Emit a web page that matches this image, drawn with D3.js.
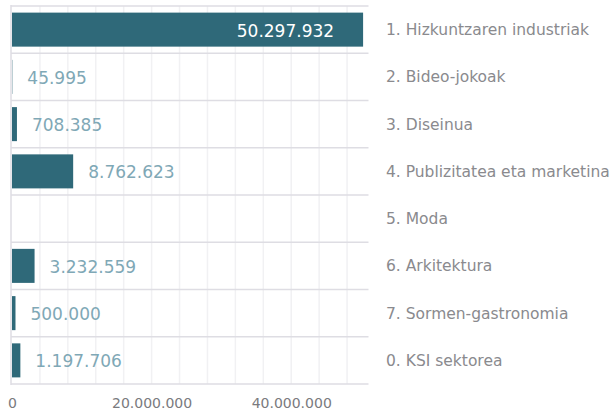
<!DOCTYPE html>
<html>
<head>
<meta charset="utf-8">
<script src="https://cdn.jsdelivr.net/npm/d3@7"></script>
<style>
  body { margin: 0; background: #fff; }
  svg { display: block; font-family: "DejaVu Sans", sans-serif; }
</style>
</head>
<body>
<div id="chart"></div>
<script>
// data
var categories = [
  '1. Hizkuntzaren industriak',
  '2. Bideo-jokoak',
  '3. Diseinua',
  '4. Publizitatea eta marketina',
  '5. Moda',
  '6. Arkitektura',
  '7. Sormen-gastronomia',
  '0. KSI sektorea'
];
var values = [50297932, 45995, 708385, 8762623, null, 3232559, 500000, 1197706];
var tick_values = [0, 20000000, 40000000];
var grid_values = [4e6, 8e6, 12e6, 16e6, 20e6, 24e6, 28e6, 32e6, 36e6, 40e6, 44e6, 48e6];

var chart_width = 612;
var chart_height = 412;

var locale = d3.formatLocale({ decimal: ',', thousands: '.', grouping: [3], currency: ['', ''] });
var fmt = locale.format(',d');

var svg = d3.select('#chart')
  .append('svg')
  .attr('width', chart_width)
  .attr('height', chart_height);

// scales
var x_scale = d3.scaleLinear()
  .domain([0, 51000000])
  .range([12, 368]);

var y_scale = d3.scaleBand()
  .domain(categories)
  .range([6, 384])
  .paddingInner(0.28)
  .paddingOuter(0.14);

var step = y_scale.step();
var row_top = function(d) { return y_scale(d) - step * 0.14; };
var row_mid = function(d) { return y_scale(d) + y_scale.bandwidth() / 2; };

// vertical grid
svg.append('g')
  .attr('class', 'grid')
  .selectAll('line')
  .data(grid_values)
  .enter()
  .append('line')
  .attr('x1', function(d) { return x_scale(d); })
  .attr('x2', function(d) { return x_scale(d); })
  .attr('y1', 6)
  .attr('y2', 384)
  .attr('stroke', '#f1f1f3')
  .attr('stroke-width', 1.5);

// row separators
var seps = categories.map(row_top).concat([384]);
svg.append('g')
  .attr('class', 'rows')
  .selectAll('line')
  .data(seps)
  .enter()
  .append('line')
  .attr('x1', 11)
  .attr('x2', 368.5)
  .attr('y1', function(d) { return d; })
  .attr('y2', function(d) { return d; })
  .attr('stroke', '#dedde3')
  .attr('stroke-width', 1.5);

// left axis line
svg.append('line')
  .attr('x1', 11).attr('x2', 11)
  .attr('y1', 5).attr('y2', 385)
  .attr('stroke', '#dedde3')
  .attr('stroke-width', 1.5);

// bars
var rows = categories.map(function(c, i) { return { cat: c, value: values[i] }; });

svg.append('g')
  .attr('class', 'bars')
  .selectAll('rect')
  .data(rows.filter(function(d) { return d.value != null; }))
  .enter()
  .append('rect')
  .attr('x', x_scale(0))
  .attr('y', function(d) { return y_scale(d.cat); })
  .attr('width', function(d) { return Math.max(0, x_scale(d.value) - x_scale(0)); })
  .attr('height', y_scale.bandwidth())
  .attr('fill', '#2f6979');

// value labels
svg.append('g')
  .attr('class', 'values')
  .selectAll('text')
  .data(rows.filter(function(d) { return d.value != null; }))
  .enter()
  .append('text')
  .text(function(d) { return fmt(d.value); })
  .attr('x', function(d) {
    return d.value > 40e6 ? x_scale(d.value) - 29 : x_scale(d.value) + 15;
  })
  .attr('y', function(d) { return row_mid(d.cat) + 7; })
  .attr('text-anchor', function(d) { return d.value > 40e6 ? 'end' : 'start'; })
  .attr('font-size', 17)
  .attr('fill', function(d) { return d.value > 40e6 ? '#ffffff' : '#7fa8b6'; });

// category labels
svg.append('g')
  .attr('class', 'cats')
  .selectAll('text')
  .data(categories)
  .enter()
  .append('text')
  .text(function(d) { return d; })
  .attr('x', 386)
  .attr('y', function(d) { return row_mid(d) + 5.5; })
  .attr('font-size', 15.5)
  .attr('fill', '#8a8a8e');

// x axis
var x_axis = d3.axisBottom(x_scale)
  .tickValues(tick_values)
  .tickFormat(fmt)
  .tickSize(0)
  .tickPadding(0);

var ax = svg.append('g')
  .attr('class', 'x-axis')
  .attr('transform', 'translate(0,398)')
  .call(x_axis);
ax.select('.domain').remove();
ax.selectAll('text')
  .attr('dy', '0.71em')
  .attr('font-size', 14)
  .attr('font-family', '"DejaVu Sans", sans-serif')
  .attr('fill', '#7a7a7e');
</script>
</body>
</html>
